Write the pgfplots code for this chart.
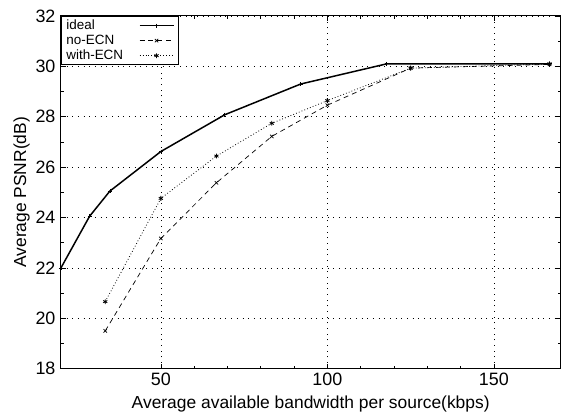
\documentclass[border=0pt]{standalone}
\usepackage{fontspec}
\setmainfont{Liberation Sans}
\usepackage{pgfplots}
\pgfplotsset{compat=1.18}
\begin{document}
\begin{tikzpicture}
\begin{axis}[
  name=ax,
  scale only axis,
  width=500bp, height=353bp,
  xmin=20, xmax=170, ymin=18, ymax=32,
  xtick={50,100,150}, ytick={18,20,...,32},
  minor x tick num=4, minor y tick num=1,
  tick align=inside,
  tick style={black, line width=0.6pt},
  major tick length=5bp, minor tick length=3bp,
  grid=major,
  major grid style={black, line width=0.7pt, dash pattern=on 0.9pt off 4.8pt},
  axis line style={line width=1pt},
  /pgf/number format/assume math mode=true,
  tick label style={font=\fontsize{18}{20}\selectfont},
  xticklabel style={yshift=-1bp},
  yticklabel style={xshift=-2bp},
  label style={font=\fontsize{17.5}{20}\selectfont},
  xlabel={Average available bandwidth per source(kbps)},
  ylabel={Average PSNR(dB)},
  xlabel style={at={(axis description cs:0.5,0)}, anchor=base, yshift=-40bp},
  ylabel style={yshift=-1bp},
  legend style={at={(0,1)}, anchor=north west, font=\fontsize{13.5}{15}\selectfont,
    draw=black, line width=1pt, inner xsep=3pt, inner ysep=1.5pt, row sep=0pt, legend cell align=left},
  legend plot pos=right,
  legend image post style={line width=0.8pt},
  legend image code/.code={\path (0bp,0bp) (50bp,0bp); \draw[mark repeat=2,mark phase=2] plot coordinates {(14bp,0bp) (31bp,0bp) (48bp,0bp)};},
]
\addplot[black, line width=1.5pt, mark=+, mark size=2pt, mark options={solid, line width=0.7pt}]
coordinates {(20,22) (28.6,24.05) (34.7,25.05) (50,26.62) (69.2,28.08) (92,29.3) (117.8,30.1) (166.7,30.1)};
\addlegendentry{ideal}
\addplot[black, dash pattern=on 5pt off 4pt, line width=0.7pt, mark=x, mark size=2.4pt, mark options={solid, line width=0.7pt}]
coordinates {(33.3,19.5) (50,23.17) (66.7,25.38) (83.3,27.22) (100,28.46) (125,29.93) (166.7,30.08)};
\addlegendentry{no-ECN}
\addplot[black, dash pattern=on 0.8pt off 2.2pt, line width=0.8pt, mark=asterisk, mark size=2.4pt, mark options={solid, line width=0.8pt}]
coordinates {(33.3,20.66) (50,24.76) (66.7,26.44) (83.3,27.74) (100,28.64) (125,29.93) (166.7,30.1)};
\addlegendentry{with-ECN}
\end{axis}
\path (ax.south west) ++(-61bp,-45bp);
\path (ax.north east) ++(0,16bp);
\end{tikzpicture}
\end{document}
